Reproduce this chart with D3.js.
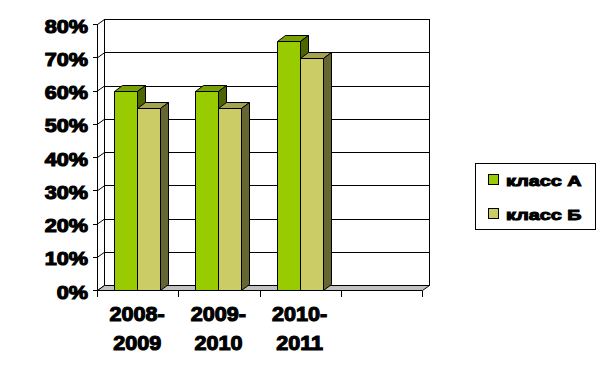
<!DOCTYPE html>
<html>
<head>
<meta charset="utf-8">
<script src="https://cdnjs.cloudflare.com/ajax/libs/d3/7.8.5/d3.min.js"></script>
<style>
	body { margin: 0; background: #ffffff; }
	text { font-family: Arial, 'Liberation Sans', sans-serif; font-weight: bold; }
	line, rect { shape-rendering: crispEdges; }
</style>
</head>
<body>
<svg id="chart"></svg>
<script>
// ========== DATA ==========
var years = [['2008-', '2009'], ['2009-', '2010'], ['2010-', '2011'], ['', '']];
var seriesNames = ['класс А', 'класс Б'];
var classA = [0.60, 0.60, 0.75];
var classB = [0.55, 0.55, 0.70];
var yTicks = [0, 0.1, 0.2, 0.3, 0.4, 0.5, 0.6, 0.7, 0.8];

makeChart();

function makeChart() {
	// ========== CONSTANTS ==========
	var width = 603;
	var height = 378;
	var wallDx = 7, wallDy = -5;   // depth of the walls
	var barDx = 8, barDy = -6;     // depth of the columns

	var colors = {
		A: { front: '#99cc00', top: '#77a000', side: '#4c6600' },
		B: { front: '#cccc66', top: '#a3a352', side: '#666633' }
	};

	var svg = d3.select('svg#chart')
		.attr('width', width)
		.attr('height', height);

	// scales
	var x = d3.scaleBand()
		.domain(d3.range(years.length))
		.range([97.5, 422.5]);
	var xs = d3.scaleBand()
		.domain(seriesNames)
		.range([16.5, 62.7]);
	var y = d3.scaleLinear()
		.domain([0, 0.8])
		.range([290.5, 24.5]);

	var left = x.range()[0], right = x.range()[1];

	// ========== WALLS ==========
	// back wall
	svg.append('rect')
		.attr('x', left + wallDx)
		.attr('y', y(0.8) + wallDy)
		.attr('width', right - left)
		.attr('height', y(0) - y(0.8))
		.attr('fill', 'white')
		.attr('stroke', 'black');

	// gridlines
	svg.selectAll('.grid')
		.data(yTicks.slice(1))
		.enter().append('line')
			.attr('class', 'grid')
			.attr('x1', left + wallDx)
			.attr('x2', right + wallDx)
			.attr('y1', function(d) { return y(d) + wallDy; })
			.attr('y2', function(d) { return y(d) + wallDy; })
			.attr('stroke', 'black');

	// side wall edge (front axis line + connectors)
	svg.append('line')
		.attr('x1', left).attr('x2', left)
		.attr('y1', y(0.8)).attr('y2', y(0))
		.attr('stroke', 'black');
	svg.selectAll('.conn')
		.data(yTicks)
		.enter().append('path')
			.attr('class', 'conn')
			.attr('d', function(d) { return d3.line()([[left, y(d)], [left + wallDx, y(d) + wallDy]]); })
			.attr('stroke', 'black');
	svg.selectAll('.ytick')
		.data(yTicks)
		.enter().append('line')
			.attr('class', 'ytick')
			.attr('x1', left - 5)
			.attr('x2', left)
			.attr('y1', function(d) { return y(d); })
			.attr('y2', function(d) { return y(d); })
			.attr('stroke', 'black');

	// floor
	var floor = d3.line()([
		[left, y(0)],
		[right, y(0)],
		[right + wallDx, y(0) + wallDy],
		[left + wallDx, y(0) + wallDy],
		[left, y(0)]]);
	svg.append('path')
		.attr('d', floor)
		.attr('fill', '#c0c0c0')
		.attr('stroke', 'black');

	// x ticks
	svg.selectAll('.xtick')
		.data(d3.range(years.length + 1))
		.enter().append('line')
			.attr('class', 'xtick')
			.attr('x1', function(i) { return left + i * x.step(); })
			.attr('x2', function(i) { return left + i * x.step(); })
			.attr('y1', y(0))
			.attr('y2', y(0) + 6)
			.attr('stroke', 'black');

	// ========== COLUMNS ==========
	var bars = [];
	classA.forEach(function(v, i) {
		bars.push({ cat: i, series: seriesNames[0], key: 'A', value: v });
		bars.push({ cat: i, series: seriesNames[1], key: 'B', value: classB[i] });
	});

	var g = svg.selectAll('.bar')
		.data(bars)
		.enter().append('g')
			.attr('class', 'bar');

	g.each(function(d) {
		var x0 = Math.round(x(d.cat) + xs(d.series)) + 0.5;
		var x1 = Math.round(x(d.cat) + xs(d.series) + xs.bandwidth()) + 0.5;
		var y0 = y(0);
		var y1 = Math.round(y(d.value)) + 0.5;
		var el = d3.select(this);
		var c = colors[d.key];

		el.append('path')
			.attr('d', d3.line()([[x0, y0], [x1, y0], [x1, y1], [x0, y1]]) + 'Z')
			.attr('fill', c.front)
			.attr('stroke', 'black');
		el.append('path')
			.attr('d', d3.line()([[x0, y1], [x1, y1], [x1 + barDx, y1 + barDy], [x0 + barDx, y1 + barDy]]) + 'Z')
			.attr('fill', c.top)
			.attr('stroke', 'black');
		el.append('path')
			.attr('d', d3.line()([[x1, y1], [x1 + barDx, y1 + barDy], [x1 + barDx, y0 + barDy], [x1, y0]]) + 'Z')
			.attr('fill', c.side)
			.attr('stroke', 'black');
	});

	// ========== LABELS ==========
	svg.selectAll('.ylabel')
		.data(yTicks)
		.enter().append('text')
			.attr('class', 'ylabel')
			.attr('transform', function(d) { return 'translate(88,' + (y(d) + 8) + ') scale(1.2,1)'; })
			.attr('text-anchor', 'end')
			.attr('font-size', 18)
			.attr('stroke', 'black')
			.attr('stroke-width', 1.1)
			.text(function(d) { return Math.round(d * 100) + '%'; });

	var xl = svg.selectAll('.xlabel')
		.data(years)
		.enter().append('g')
			.attr('class', 'xlabel');
	[0, 1].forEach(function(line) {
		xl.append('text')
			.attr('transform', function(d, i) {
				return 'translate(' + (x(i) + x.bandwidth() / 2 - 1) + ',' + (321 + line * 29) + ') scale(1.08,1)';
			})
			.attr('text-anchor', 'middle')
			.attr('font-size', 20)
			.attr('stroke', 'black')
			.attr('stroke-width', 1.1)
			.text(function(d) { return d[line]; });
	});

	// ========== LEGEND ==========
	var legend = svg.append('g');
	legend.append('rect')
		.attr('x', 475.5)
		.attr('y', 163.5)
		.attr('width', 120)
		.attr('height', 66)
		.attr('fill', 'white')
		.attr('stroke', 'black');

	var items = legend.selectAll('.item')
		.data(seriesNames)
		.enter().append('g')
			.attr('class', 'item')
			.attr('transform', function(d, i) { return 'translate(0,' + (i * 34) + ')'; });
	items.append('rect')
		.attr('x', 488.5)
		.attr('y', 174.5)
		.attr('width', 10)
		.attr('height', 10)
		.attr('fill', function(d, i) { return i === 0 ? colors.A.front : colors.B.front; })
		.attr('stroke', 'black');
	items.append('text')
		.attr('transform', 'translate(506,186) scale(1.32,1)')
		.attr('font-size', 15)
		.attr('stroke', 'black')
		.attr('stroke-width', 1)
		.text(function(d) { return d; });
}
</script>
</body>
</html>
